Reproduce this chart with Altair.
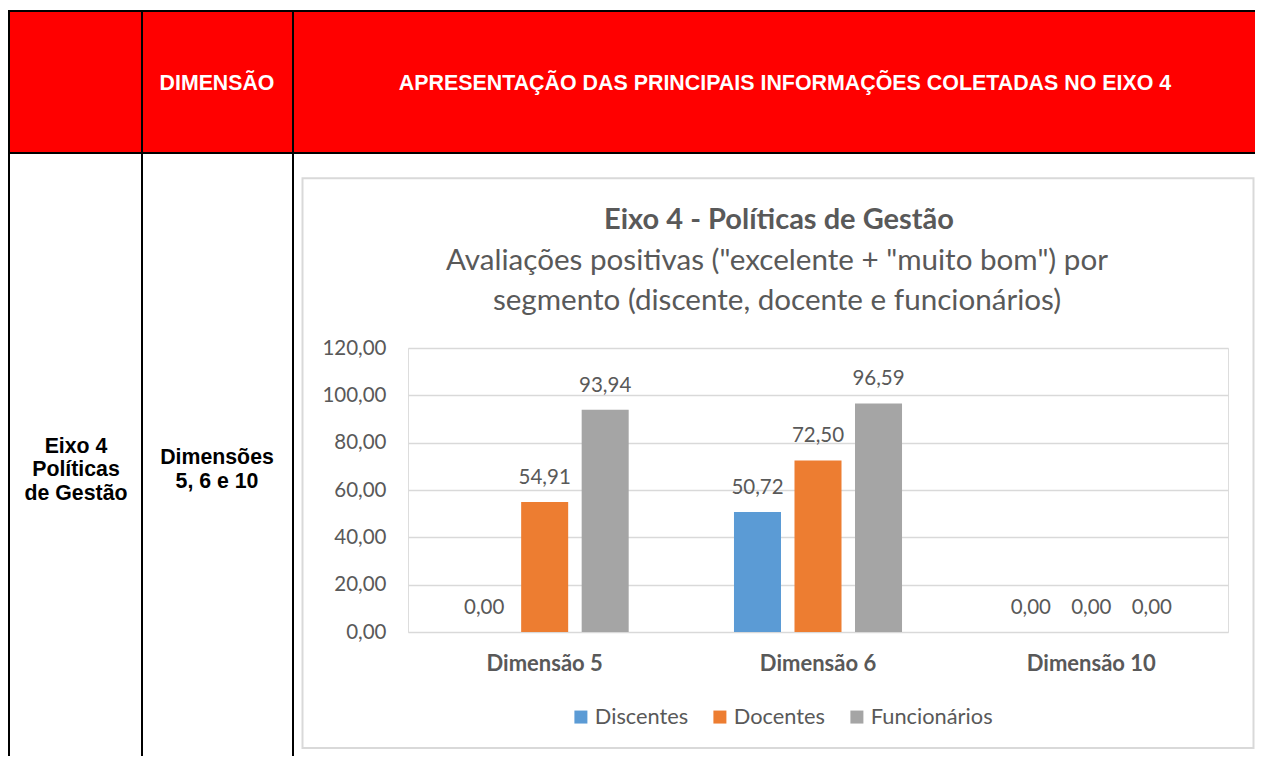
import altair as alt
import pandas as pd

# ---------------- data ----------------
categories = ["Dimensão 5", "Dimensão 6", "Dimensão 10"]
series = ["Discentes", "Docentes", "Funcionários"]
discentes = [0.00, 50.72, 0.00]
docentes = [54.91, 72.50, 0.00]
funcionarios = [93.94, 96.59, 0.00]
y_ticks = [0, 20, 40, 60, 80, 100, 120]
colors = ["#5b9bd5", "#ed7d31", "#a5a5a5"]

chart_title = "Eixo 4 - Políticas de Gestão"
chart_subtitle = ['Avaliações positivas ("excelente + "muito bom") por',
                  "segmento (discente, docente e funcionários)"]
header_dim = "DIMENSÃO"
header_info = "APRESENTAÇÃO DAS PRINCIPAIS INFORMAÇÕES COLETADAS NO EIXO 4"
row_eixo = ["Eixo 4", "Políticas", "de Gestão"]
row_dim = ["Dimensões", "5, 6 e 10"]

rows = []
for s, vals in zip(series, [discentes, docentes, funcionarios]):
    for c, v in zip(categories, vals):
        rows.append({"categoria": c, "segmento": s, "valor": v})
df = pd.DataFrame(rows)
df["rotulo"] = df["valor"].map(lambda v: f"{v:.2f}".replace(".", ","))

GRAY_TXT = "#595959"
FONT = "Lato"
TFONT = "Liberation Sans"
TSIZE = 21.3

one = pd.DataFrame({"k": [0]})


def deco():
    return alt.Chart(one)


# ---------------- table decoration ----------------
red = deco().mark_rect(color="#ff0000").encode(
    x=alt.value(-398), x2=alt.value(870), y=alt.value(-336), y2=alt.value(-196))
top_line = deco().mark_rule(color="black", strokeWidth=2).encode(
    x=alt.value(-400), x2=alt.value(870), y=alt.value(-337))
head_line = deco().mark_rule(color="black", strokeWidth=2).encode(
    x=alt.value(-400), x2=alt.value(870), y=alt.value(-195))
v1 = deco().mark_rule(color="black", strokeWidth=2).encode(
    x=alt.value(-399), y=alt.value(-338), y2=alt.value(440))
v2 = deco().mark_rule(color="black", strokeWidth=2).encode(
    x=alt.value(-266), y=alt.value(-338), y2=alt.value(440))
v3 = deco().mark_rule(color="black", strokeWidth=2).encode(
    x=alt.value(-115), y=alt.value(-338), y2=alt.value(440))

h_dim = deco().mark_text(text=header_dim, font=TFONT, fontWeight="bold", fontSize=TSIZE,
                         color="white", align="center", baseline="alphabetic").encode(
    x=alt.value(-191), y=alt.value(-258))
h_info = deco().mark_text(text=header_info, font=TFONT, fontWeight="bold", fontSize=21.4,
                          color="white", align="center", baseline="alphabetic").encode(
    x=alt.value(377), y=alt.value(-258))
t_eixo = deco().mark_text(text=row_eixo, font=TFONT, fontWeight="bold", fontSize=TSIZE,
                          color="black", align="center", baseline="alphabetic",
                          lineHeight=23.7).encode(x=alt.value(-332), y=alt.value(104.7))
t_dim = deco().mark_text(text=row_dim, font=TFONT, fontWeight="bold", fontSize=TSIZE,
                         color="black", align="center", baseline="alphabetic",
                         lineHeight=24.3).encode(x=alt.value(-191), y=alt.value(116))

frame = deco().mark_rect(fillOpacity=0, stroke="#d9d9d9", strokeWidth=2).encode(
    x=alt.value(-105.5), x2=alt.value(845.5), y=alt.value(-169.7), y2=alt.value(400))

title = deco().mark_text(text=chart_title, font=FONT, fontWeight="bold", fontSize=29,
                         color=GRAY_TXT, align="center", baseline="alphabetic").encode(
    x=alt.value(371), y=alt.value(-119))
subtitle = deco().mark_text(text=chart_subtitle, font=FONT, fontSize=29.6, color=GRAY_TXT,
                            align="center", baseline="alphabetic", lineHeight=40).encode(
    x=alt.value(369), y=alt.value(-78))

# ---------------- bar chart ----------------
base = alt.Chart(df).encode(
    x=alt.X("categoria:N", sort=categories,
            scale=alt.Scale(paddingInner=0, paddingOuter=0),
            axis=alt.Axis(title=None, labelAngle=0, labelFont=FONT, labelFontWeight="bold",
                          labelFontSize=22, labelColor=GRAY_TXT, labelPadding=31,
                          labelBaseline="middle", ticks=False, tickSize=0, domain=False,
                          grid=False)),
    xOffset=alt.XOffset("segmento:N", sort=series,
                        scale=alt.Scale(paddingInner=0.223, paddingOuter=0.87)),
)

bars = base.mark_bar().encode(
    y=alt.Y("valor:Q", scale=alt.Scale(domain=[0, 120], nice=False),
            axis=alt.Axis(title=None, values=y_ticks,
                          labelExpr="replace(format(datum.value, '.2f'), '.', ',')",
                          labelFont=FONT, labelFontSize=20.5, labelColor=GRAY_TXT,
                          labelPadding=22, ticks=False, tickSize=0, domain=False,
                          gridColor="#d9d9d9", gridWidth=1.5)),
    color=alt.Color("segmento:N", sort=series,
                    scale=alt.Scale(domain=series, range=colors),
                    legend=alt.Legend(orient="none", legendX=162, legendY=358,
                                      direction="horizontal", title=None,
                                      symbolType="square", symbolSize=169,
                                      symbolStrokeWidth=0, symbolOpacity=1,
                                      labelFont=FONT, labelFontSize=21.8,
                                      labelColor=GRAY_TXT, labelOffset=3,
                                      columnPadding=20, padding=0)),
)

labels = base.mark_text(font=FONT, fontSize=20.5, color=GRAY_TXT, align="center",
                        baseline="alphabetic", dy=-18).encode(
    y=alt.Y("valor:Q"), text="rotulo:N")

chart = alt.layer(
    red, top_line, head_line, v1, v2, v3, h_dim, h_info, t_eixo, t_dim,
    frame, title, subtitle, bars, labels
).properties(
    width=820, height=284,
    padding={"left": 400, "top": 340, "right": 27, "bottom": 124},
    autosize=alt.AutoSizeParams(type="none"),
).configure_view(stroke=None).configure(background="white")

chart.save("out.html", embed_options={"renderer": "svg", "actions": False})
